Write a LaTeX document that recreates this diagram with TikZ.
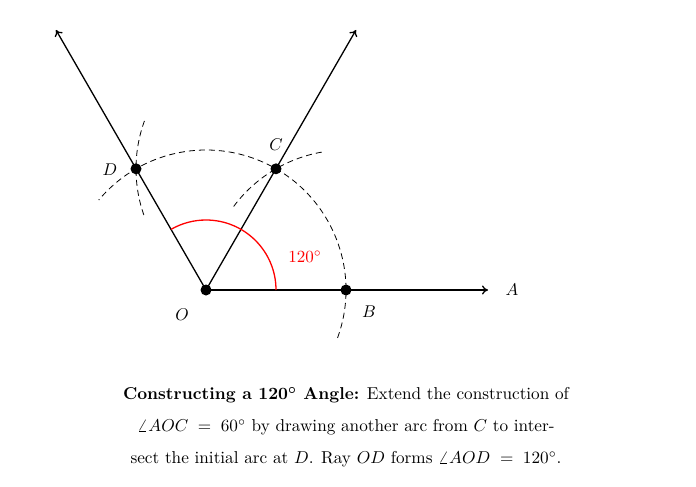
\documentclass[tikz,border=0pt]{standalone}
\usepackage{graphicx}
\usetikzlibrary{arrows.meta}
\begin{document}
\begin{tikzpicture}[x=1pt,y=-1pt,
  ray/.style={line width=1.3pt,-{To[length=6pt,width=9pt]}},
  dot/.style={circle,fill=black,inner sep=0pt,minimum size=11pt},
  dsh/.style={dashed,line width=0.8pt,dash pattern=on 6pt off 4pt}]
\useasboundingbox (0,0) rectangle (696,487);
\coordinate (O) at (206,290);
\coordinate (B) at (346,290);
\coordinate (C) at (276,168.8);
\coordinate (D) at (136,168.8);
\coordinate (Aend) at (488,290);
\coordinate (Cend) at (356,30);
\coordinate (Dend) at (56,30);
% dashed construction arcs
\draw[dsh] ([shift={(20:140)}]O) arc[start angle=20,end angle=-140,radius=140];
\draw[dsh] ([shift={(-100:140)}]B) arc[start angle=-100,end angle=-145,radius=140];
\draw[dsh] ([shift={(-160:140)}]C) arc[start angle=-160,end angle=-200,radius=140];
% rays
\draw[ray] (O) -- (Aend);
\draw[ray] (O) -- (Cend);
\draw[ray] (O) -- (Dend);
% red arc
\draw[red,line width=1.3pt] ([shift={(0:70)}]O) arc[start angle=0,end angle=-120,radius=70];
\node[red] (ang) at (305,257) {\scalebox{1.7}{$120^\circ$}};
\node[dot] (o) at (O) {};
\node[dot] (b) at (B) {};
\node[dot] (c) at (C) {};
\node[dot] (d) at (D) {};
\node (lo) at (182,315) {\scalebox{1.7}{$O$}};
\node (lb) at (369,312) {\scalebox{1.7}{$B$}};
\node (lc) at (276,145) {\scalebox{1.7}{$C$}};
\node (ld) at (110,170) {\scalebox{1.7}{$D$}};
\node (la) at (512,290) {\scalebox{1.7}{$A$}};
\node (cap) at (346,427)
 {\scalebox{1.72}{\parbox{385pt}{\baselineskip=18.6pt\centering
 \textbf{Constructing a 120\boldmath$^\circ$ Angle:} Extend the construction of\\
 $\angle AOC \;=\; 60^\circ$ by drawing another arc from $C$ to inter-\\
 sect the initial arc at $D$. Ray $OD$ forms $\angle AOD \;=\; 120^\circ$.\par}}};
\end{tikzpicture}
\end{document}
